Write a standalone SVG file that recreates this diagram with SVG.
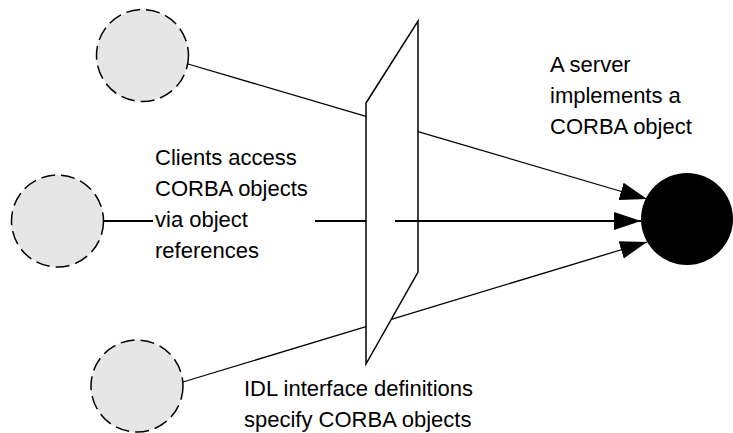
<svg xmlns="http://www.w3.org/2000/svg" width="733" height="433" viewBox="0 0 733 433">
<style>
.client{fill:#e6e6e6;stroke:#000;stroke-width:1.5;stroke-dasharray:14 6}
.plane{fill:#fff;stroke:#000;stroke-width:1.5}
.conn{stroke:#000;stroke-width:1.3;fill:none}
.thick{stroke-width:2}
.lbl{font-family:"Liberation Sans",Arial,sans-serif;font-size:22px;fill:#000}
</style>
<defs>
<marker id="ah" markerUnits="userSpaceOnUse" markerWidth="30" markerHeight="20" refX="27" refY="9" orient="auto">
<path d="M0,0 L27,9 L0,18 z" fill="#000"/>
</marker>
</defs>
<rect width="733" height="433" fill="#fff"/>
<g id="client1"><circle class="client" cx="142.5" cy="55.5" r="46"/></g>
<g id="client2"><circle class="client" cx="57.5" cy="221" r="46"/></g>
<g id="client3"><circle class="client" cx="137" cy="386" r="46"/></g>
<g id="idl-plane"><polygon class="plane" points="366,103 418,21 418,272 366,364"/></g>
<g id="server"><circle cx="687" cy="219" r="46" fill="#000"/></g>
<g id="connectors">
<line class="conn" x1="188" y1="64" x2="366" y2="116.4"/>
<line class="conn" x1="418" y1="131.6" x2="647" y2="199" marker-end="url(#ah)"/>
<line class="conn thick" x1="103.5" y1="221" x2="153" y2="221"/>
<line class="conn thick" x1="315" y1="221" x2="366" y2="221"/>
<line class="conn thick" x1="395" y1="221" x2="641" y2="221" marker-end="url(#ah)"/>
<line class="conn" x1="183" y1="382" x2="366" y2="326.7"/>
<line class="conn" x1="391.3" y1="319.3" x2="647" y2="242" marker-end="url(#ah)"/>
</g>
<g id="labels">
<text class="lbl" x="155" y="165">Clients access</text>
<text class="lbl" x="155" y="196">CORBA objects</text>
<text class="lbl" x="155" y="227">via object</text>
<text class="lbl" x="155" y="258">references</text>
<text class="lbl" x="550" y="72">A server</text>
<text class="lbl" x="550" y="103">implements a</text>
<text class="lbl" x="550" y="134">CORBA object</text>
<text class="lbl" x="244" y="396">IDL interface definitions</text>
<text class="lbl" x="244" y="427">specify CORBA objects</text>
</g>
</svg>
